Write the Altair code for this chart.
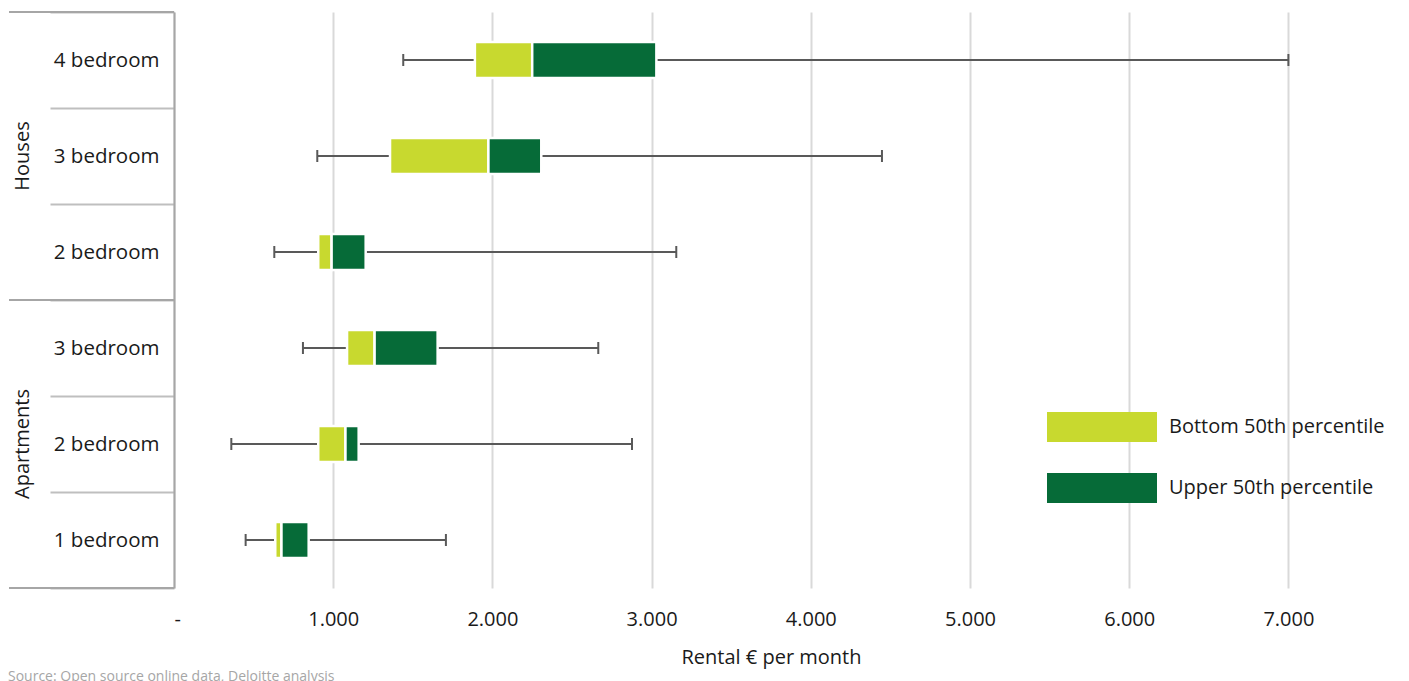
import altair as alt
import pandas as pd

# ---- data ----
keys = ["H4", "H3", "H2", "A3", "A2", "A1"]
labels = ["4 bedroom", "3 bedroom", "2 bedroom", "3 bedroom", "2 bedroom", "1 bedroom"]
groups = ["Houses", "Houses", "Houses", "Apartments", "Apartments", "Apartments"]
mins = [1440, 900, 630, 810, 360, 450]
q1s = [1890, 1357, 906, 1087, 906, 636]
medians = [2250, 1975, 990, 1260, 1077, 675]
q3s = [3030, 2307, 1204, 1656, 1160, 846]
maxs = [7000, 4447, 3155, 2665, 2877, 1708]
seg_names = ["Bottom 50th percentile", "Upper 50th percentile"]
x_ticks = [0, 1000, 2000, 3000, 4000, 5000, 6000, 7000]
group_label_keys = ["H3", "A2"]
group_label_texts = ["Houses", "Apartments"]
source_text = "Source: Open source online data, Deloitte analysis"
x_title = "Rental € per month"

FONT = "Open Sans"
LIGHT = "#C8D92F"
DARK = "#066B38"
WHISK = "#595959"
TXT = "#1a1a1a"

rows = pd.DataFrame({"row": keys, "label": labels, "group": groups,
                     "lo": mins, "q1": q1s, "med": medians, "q3": q3s, "hi": maxs})
seg = pd.DataFrame({
    "row": keys + keys,
    "segment": [seg_names[0]] * len(keys) + [seg_names[1]] * len(keys),
    "start": q1s + medians,
    "end": medians + q3s,
})
grp_top = pd.DataFrame({"row": [keys[0], keys[3]]})
grp_bot = pd.DataFrame({"row": [keys[-1]]})
grp_lab = pd.DataFrame({"row": group_label_keys, "text": group_label_texts})

label_expr = "".join(f"datum.value == '{k}' ? '{l}' : " for k, l in zip(keys, labels)) + "''"
x_label_expr = "datum.value == 0 ? '-' : replace(format(datum.value, ','), ',', '.')"

yscale = alt.Scale(domain=keys, paddingInner=0, paddingOuter=0)
xscale = alt.Scale(domain=[0, 7500], nice=False)

x_axis = alt.Axis(values=x_ticks, labelExpr=x_label_expr, grid=True, gridColor="#D9D9D9",
                  gridWidth=2, domain=False, ticks=False, labelFontSize=20, labelFont=FONT,
                  labelColor=TXT, labelPadding=21, title=x_title, titleFontSize=20,
                  titleFont=FONT, titleFontWeight="normal", titleColor=TXT, titlePadding=18)
y_axis = alt.Axis(labelExpr=label_expr, tickBand="extent", tickSize=124, tickWidth=2,
                  tickColor="#BFBFBF", domainColor="#A6A6A6", domainWidth=2,
                  labelFontSize=20.5, labelFont=FONT, labelColor=TXT, labelPadding=-109,
                  grid=False, title=None)

Y = alt.Y("row:N", scale=yscale, axis=y_axis)

whisk_lo = alt.Chart(rows).mark_rule(color=WHISK, strokeWidth=2).encode(
    x=alt.X("lo:Q", scale=xscale, axis=x_axis), x2="q1:Q", y=Y)
whisk_hi = alt.Chart(rows).mark_rule(color=WHISK, strokeWidth=2).encode(
    x=alt.X("q3:Q", scale=xscale), x2="hi:Q", y=Y)
caps = alt.Chart(rows).transform_fold(["lo", "hi"], as_=["which", "value"]).mark_tick(
    color=WHISK, thickness=2, size=12, opacity=1).encode(
    x=alt.X("value:Q", scale=xscale), y=Y)

legend = alt.Legend(orient="none", legendX=873, legendY=400, title=None,
                    symbolType="M-1,-0.2727L1,-0.2727L1,0.2727L-1,0.2727Z",
                    symbolSize=12100, symbolStrokeWidth=0, symbolOpacity=1,
                    labelFontSize=20, labelFont=FONT, labelColor=TXT, labelOffset=12,
                    labelLimit=400, clipHeight=30, rowPadding=31, padding=0)

bars = alt.Chart(seg).mark_bar(size=36, stroke="white", strokeWidth=2.5).encode(
    x=alt.X("start:Q", scale=xscale), x2="end:Q", y=Y,
    color=alt.Color("segment:N", scale=alt.Scale(domain=seg_names, range=[LIGHT, DARK]),
                    legend=legend))

sep_top = alt.Chart(grp_top).mark_rule(color="#A6A6A6", strokeWidth=2).encode(
    y=alt.Y("row:N", scale=yscale, bandPosition=0), x=alt.value(-165), x2=alt.value(0))
sep_bot = alt.Chart(grp_bot).mark_rule(color="#A6A6A6", strokeWidth=2).encode(
    y=alt.Y("row:N", scale=yscale, bandPosition=1), x=alt.value(-165), x2=alt.value(0))
glabels = alt.Chart(grp_lab).mark_text(angle=270, fontSize=20, font=FONT, color=TXT,
                                       align="center", baseline="middle").encode(
    y=alt.Y("row:N", scale=yscale), x=alt.value(-151), text="text:N")

chart = alt.layer(whisk_lo, whisk_hi, caps, bars, sep_top, sep_bot, glabels).properties(
    width=1194, height=576,
    padding={"left": 0, "top": -6, "right": 0, "bottom": 0},
    title=alt.TitleParams(text=source_text, orient="bottom", anchor="start", frame="bounds",
                          fontSize=14, font=FONT, fontWeight="normal", color="#A6A6A6",
                          offset=3),
).configure_view(strokeWidth=0)

chart.save("out.html", embed_options={"renderer": "svg", "actions": False})
